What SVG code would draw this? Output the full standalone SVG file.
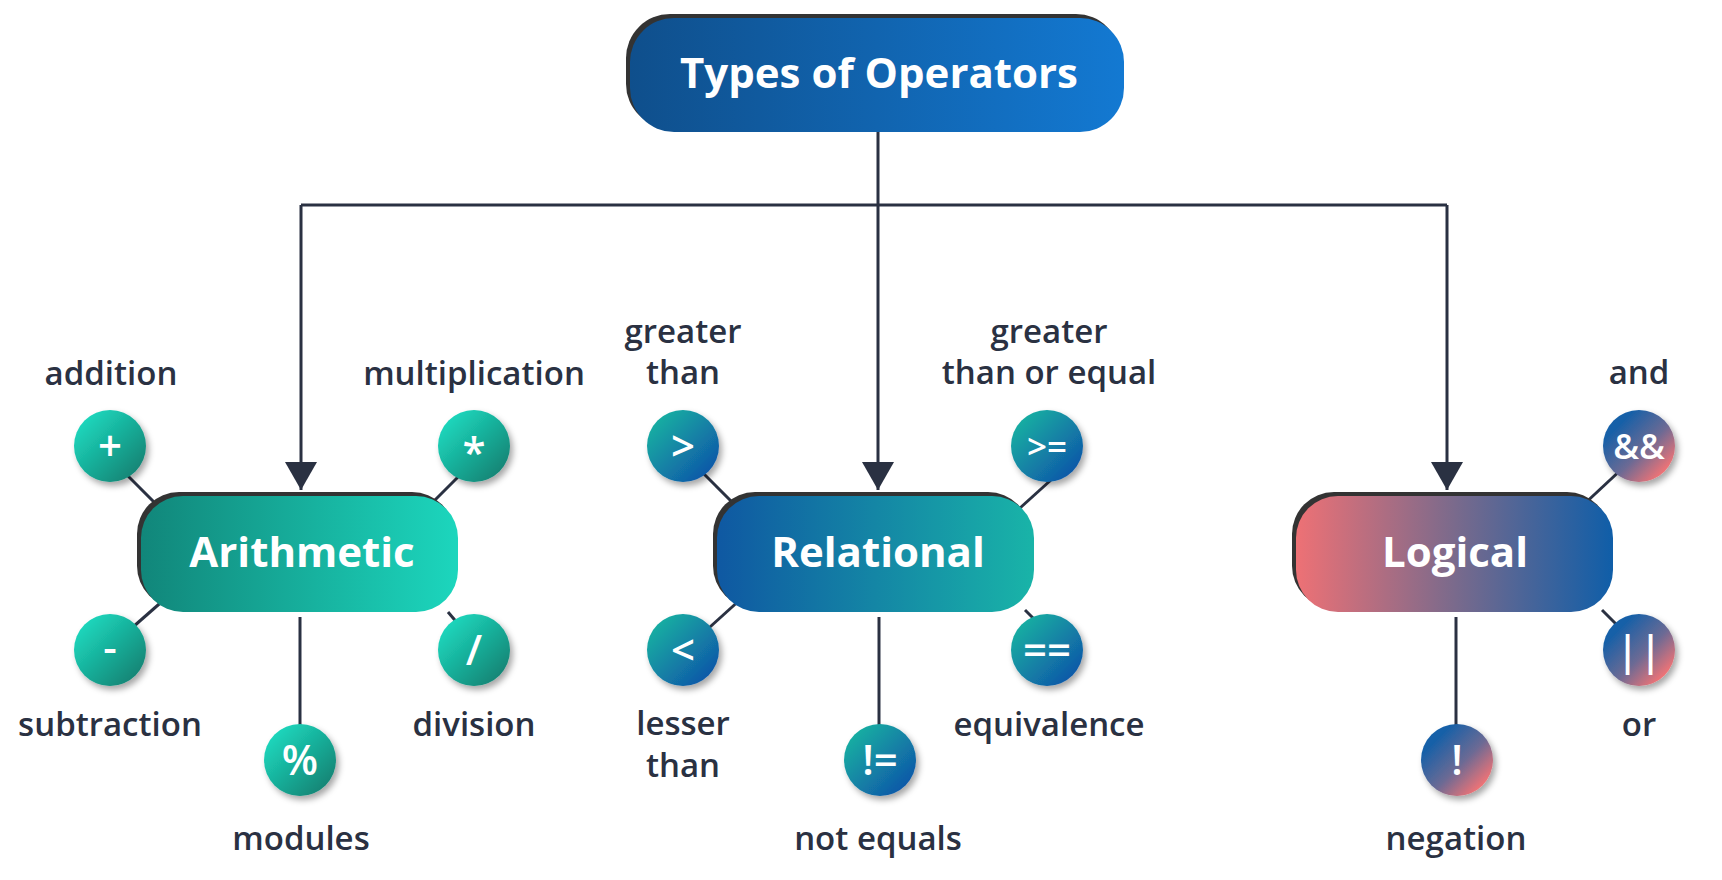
<svg xmlns="http://www.w3.org/2000/svg" width="1722" height="880" viewBox="0 0 1722 880">
<defs>
<linearGradient id="gTop" x1="0" y1="0" x2="1" y2="0"><stop offset="0" stop-color="#0f4f8c"/><stop offset="1" stop-color="#1379d2"/></linearGradient>
<linearGradient id="gAr" x1="0" y1="0" x2="1" y2="0"><stop offset="0" stop-color="#11867a"/><stop offset="1" stop-color="#1cd6bd"/></linearGradient>
<linearGradient id="gRe" x1="0" y1="0" x2="1" y2="0"><stop offset="0" stop-color="#0f58a2"/><stop offset="1" stop-color="#19b4a8"/></linearGradient>
<linearGradient id="gLo" x1="0" y1="0" x2="1" y2="0"><stop offset="0" stop-color="#ee7175"/><stop offset="0.5" stop-color="#7a6a8c"/><stop offset="1" stop-color="#0f5ea8"/></linearGradient>
<linearGradient id="cAr" x1="0.15" y1="0.15" x2="0.85" y2="0.85"><stop offset="0" stop-color="#1dd5bb"/><stop offset="1" stop-color="#128777"/></linearGradient>
<linearGradient id="cRe" x1="0.15" y1="0.15" x2="0.85" y2="0.85"><stop offset="0" stop-color="#18aca2"/><stop offset="1" stop-color="#0f5aa8"/></linearGradient>
<linearGradient id="cLo" x1="0.2" y1="0.2" x2="0.85" y2="0.85"><stop offset="0" stop-color="#1460a8"/><stop offset="0.55" stop-color="#6c6a94"/><stop offset="1" stop-color="#ee7376"/></linearGradient>
<filter id="sh" x="-30%" y="-30%" width="170%" height="170%"><feDropShadow dx="3" dy="4" stdDeviation="3" flood-color="#000" flood-opacity="0.35"/></filter>
<marker id="arr" markerUnits="userSpaceOnUse" viewBox="0 0 28 32" markerWidth="28" markerHeight="32" refX="28" refY="16" orient="auto"><path d="M0,0 L28,16 L0,32 z" fill="#2a3142"/></marker>
</defs>
<style>
.ln{stroke:#2a3142;stroke-width:3;fill:none}
.bx-sh{fill:#333}
.bt{font-family:"Open Sans","Liberation Sans",sans-serif;font-weight:700;font-size:42px;fill:#fff;text-anchor:middle}
.sym{font-family:"Open Sans","Liberation Sans",sans-serif;font-weight:600;font-size:42px;fill:#fff;text-anchor:middle}
.sym2{font-family:"Open Sans","Liberation Sans",sans-serif;font-weight:600;font-size:35px;fill:#fff;text-anchor:middle}
.lb{font-family:"Open Sans","Liberation Sans",sans-serif;font-weight:600;font-size:33px;fill:#2a3142;text-anchor:middle}
.c{filter:url(#sh)}
</style>
<rect width="1722" height="880" fill="#fff"/>
<g id="connectors">
<path class="ln" d="M878,132 V490" marker-end="url(#arr)"/>
<path class="ln" d="M301,205 H1447"/>
<path class="ln" d="M301,205 V490" marker-end="url(#arr)"/>
<path class="ln" d="M1447,205 V490" marker-end="url(#arr)"/>
<path class="ln" d="M120,468 L162,510"/>
<path class="ln" d="M465,470 L430,505"/>
<path class="ln" d="M166,598 L125,634"/>
<path class="ln" d="M448,612 L470,638"/>
<path class="ln" d="M300,617 V730"/>
<path class="ln" d="M695,465 L740,510"/>
<path class="ln" d="M1020,508 L1062,470"/>
<path class="ln" d="M742,598 L700,636"/>
<path class="ln" d="M1025,610 L1045,630"/>
<path class="ln" d="M879,617 V730"/>
<path class="ln" d="M1580,508 L1625,466"/>
<path class="ln" d="M1602,610 L1628,636"/>
<path class="ln" d="M1456,617 V730"/>
</g>
<g id="types">
<rect class="bx-sh" x="626" y="14" width="494" height="114" rx="44"/>
<rect x="630" y="18" width="494" height="114" rx="44" fill="url(#gTop)"/>
<text class="bt" x="879" y="88">Types of Operators</text>
</g>
<g id="arithmetic">
<rect class="bx-sh" x="137" y="492" width="317" height="116" rx="42"/>
<rect x="141" y="496" width="317" height="116" rx="42" fill="url(#gAr)"/>
<text class="bt" x="302" y="567">Arithmetic</text>
</g>
<g id="relational">
<rect class="bx-sh" x="713" y="492" width="317" height="116" rx="42"/>
<rect x="717" y="496" width="317" height="116" rx="42" fill="url(#gRe)"/>
<text class="bt" x="878" y="567">Relational</text>
</g>
<g id="logical">
<rect class="bx-sh" x="1292" y="492" width="317" height="116" rx="42"/>
<rect x="1296" y="496" width="317" height="116" rx="42" fill="url(#gLo)"/>
<text class="bt" x="1455" y="567">Logical</text>
</g>
<g id="op-add"><circle class="c" cx="110" cy="446" r="36" fill="url(#cAr)"/><text class="sym" x="110" y="461">+</text><text class="lb" x="111" y="385">addition</text></g>
<g id="op-mul"><circle class="c" cx="474" cy="446" r="36" fill="url(#cAr)"/><text class="sym" x="474" y="467">*</text><text class="lb" x="474" y="385">multiplication</text></g>
<g id="op-sub"><circle class="c" cx="110" cy="650" r="36" fill="url(#cAr)"/><text class="sym" x="110" y="662">-</text><text class="lb" x="110" y="736">subtraction</text></g>
<g id="op-div"><circle class="c" cx="474" cy="650" r="36" fill="url(#cAr)"/><text class="sym" x="474" y="665">/</text><text class="lb" x="474" y="736">division</text></g>
<g id="op-mod"><circle class="c" cx="300" cy="760" r="36" fill="url(#cAr)"/><text class="sym" x="300" y="775">%</text><text class="lb" x="301" y="850">modules</text></g>
<g id="op-gt"><circle class="c" cx="683" cy="446" r="36" fill="url(#cRe)"/><text class="sym" x="683" y="461">&gt;</text><text class="lb"><tspan x="683" y="343">greater</tspan><tspan x="683" y="384">than</tspan></text></g>
<g id="op-ge"><circle class="c" cx="1047" cy="446" r="36" fill="url(#cRe)"/><text class="sym2" x="1047" y="459">&gt;=</text><text class="lb"><tspan x="1049" y="343">greater</tspan><tspan x="1049" y="384">than or equal</tspan></text></g>
<g id="op-lt"><circle class="c" cx="683" cy="650" r="36" fill="url(#cRe)"/><text class="sym" x="683" y="665">&lt;</text><text class="lb"><tspan x="683" y="735">lesser</tspan><tspan x="683" y="777">than</tspan></text></g>
<g id="op-eq"><circle class="c" cx="1047" cy="650" r="36" fill="url(#cRe)"/><text class="sym" x="1047" y="665">==</text><text class="lb" x="1049" y="736">equivalence</text></g>
<g id="op-ne"><circle class="c" cx="880" cy="760" r="36" fill="url(#cRe)"/><text class="sym" x="880" y="775">!=</text><text class="lb" x="878" y="850">not equals</text></g>
<g id="op-and"><circle class="c" cx="1639" cy="446" r="36" fill="url(#cLo)"/><text class="sym2" x="1639" y="459">&amp;&amp;</text><text class="lb" x="1639" y="384">and</text></g>
<g id="op-or"><circle class="c" cx="1639" cy="650" r="36" fill="url(#cLo)"/><text class="sym" x="1639" y="665">||</text><text class="lb" x="1639" y="736">or</text></g>
<g id="op-not"><circle class="c" cx="1457" cy="760" r="36" fill="url(#cLo)"/><text class="sym" x="1457" y="775">!</text><text class="lb" x="1456" y="850">negation</text></g>
</svg>
